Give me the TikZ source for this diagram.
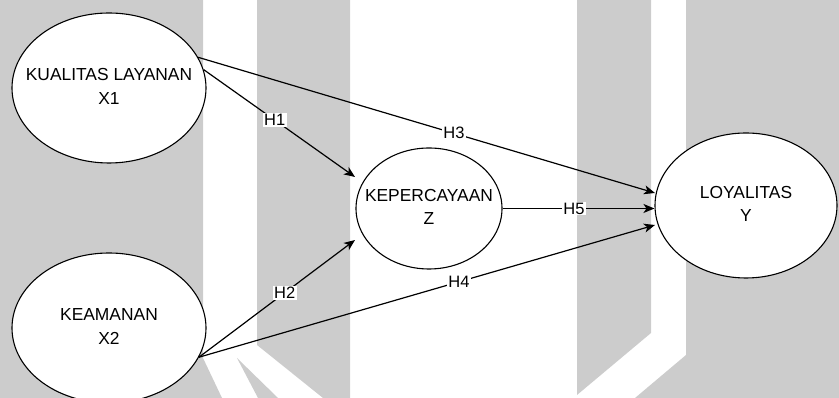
\documentclass[tikz,border=0pt]{standalone}
\usepackage{fontspec}
\setmainfont{Liberation Sans}
\usetikzlibrary{shapes.geometric,arrows.meta}
\definecolor{wm}{RGB}{204,204,204}
\newcommand{\ctext}[1]{\makebox[0pt][c]{\begin{tabular}{@{}c@{}}#1\end{tabular}}}
\begin{document}
\begin{tikzpicture}[x=1pt,y=1pt,
  var/.style={ellipse, draw, fill=white, line width=1.1pt, inner sep=0pt,
    font=\fontsize{17.4}{23.5}\selectfont},
  link/.style={line width=1.2pt, -{Stealth[length=11pt,width=9pt,inset=3pt]}},
  hlabel/.style={fill=white, inner sep=1.2pt, font=\fontsize{16.5}{18}\selectfont}
]
\useasboundingbox (0,0) rectangle (839,398);
\clip (0,0) rectangle (839,398);
% watermark background
\fill[wm] (0,398) -- (203,398) -- (203,40) -- (222,0) -- (0,0) -- cycle;
\fill[wm] (237,40) -- (278,0) -- (258,0) -- cycle;
\fill[wm] (257,398) -- (350,398) -- (350,0) -- (323,0) -- (257,53) -- cycle;
\fill[wm] (577,398) -- (651,398) -- (651,65) -- (577,3) -- cycle;
\fill[wm] (686,398) -- (839,398) -- (839,0) -- (635,0) -- (686,43) -- cycle;
% constructs
\node[var, minimum width=194pt, minimum height=150pt] (e1) at (109,310) {\ctext{KUALITAS LAYANAN\\X1}};
\node[var, minimum width=194pt, minimum height=150pt] (e2) at (109,70) {\ctext{KEAMANAN\\X2}};
\node[var, minimum width=146pt, minimum height=121pt] (e3) at (429,189.5) {\ctext{KEPERCAYAAN\\Z}};
\node[var, minimum width=182pt, minimum height=145pt] (e4) at (746,192.5) {\ctext{LOYALITAS\\Y}};
% paths
\draw[link] (e1.11) -- node[hlabel, pos=0.47] {H1} ([shift={(-74,31.5)}]e3.center);
\draw[link] (e1.19) -- node[hlabel, pos=0.56] {H3} ([shift={(-91,12.5)}]e4.center);
\draw[link] (e2.-18) -- node[hlabel, pos=0.55] {H2} ([shift={(-74,-31.5)}]e3.center);
\draw[link] (e2.-18) -- node[hlabel, pos=0.57] {H4} ([shift={(-91,-19.5)}]e4.center);
\draw[link] (e3.east) -- node[hlabel, pos=0.47] {H5} (e3.east -| e4.west);
\end{tikzpicture}
\end{document}
